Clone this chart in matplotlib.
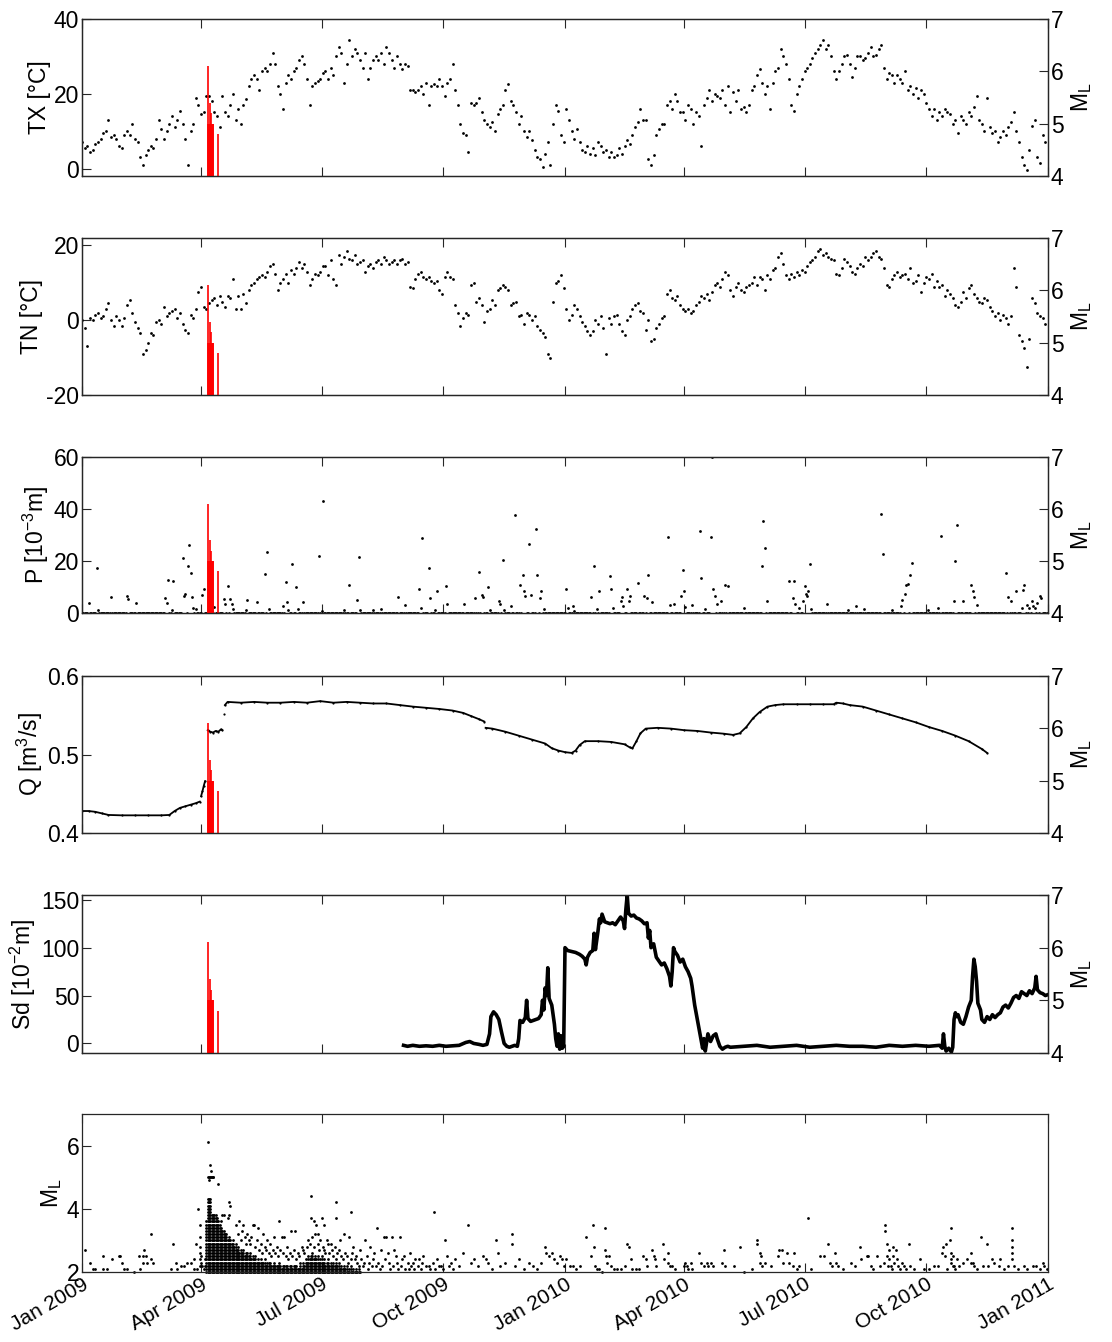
import numpy as np
import matplotlib
matplotlib.use("Agg")
import matplotlib.pyplot as plt
import matplotlib.dates as mdates
from datetime import datetime

# ---- data (day index from 1 Jan 2009) ----
# daily max / min temperature, read every 2 days
tx_vals = [7, 5.5, 6, 4.5, 5, 6.5, 7, 8, 9.5, 10,
           13, 8.5, 9, 8, 6, 5.5, 9, 10, 9, 12,
           8, 7, 3, 1, 3.5, 5, 6, 5.5, 8, 13,
           10.5, 8, 10, 12, 14, 11, 13, 15.5, 12, 8,
           1, 10, 12, 19, 17, 14.5, 15, 19.5, 19.5, 18,
           15, 14, 11, 19.5, 15, 14, 17, 20, 13, 16,
           12, 17, 18.5, 22, 24, 25, 24, 21, 26, 27,
           26, 28, 31, 28, 22, 20, 16, 23, 25, 24,
           26, 27, 29, 30, 28, 24, 17, 22, 23, 23.5,
           24, 25.5, 26, 24, 27, 25, 30, 32.5, 31, 23,
           28, 34.5, 30, 32, 31, 29, 27, 31, 24, 27,
           29, 30, 29, 31, 28, 32.5, 31, 29, 27, 30,
           28, 26.5, 28, 27.5, 21, 21, 20.5, 21, 22, 20,
           23, 17, 22, 22.5, 22, 24, 22, 19.5, 23, 24,
           28, 21, 17, 12, 9.5, 9, 4.5, 17.5, 17, 17.5,
           19, 15, 13, 12, 11, 12.5, 10, 14.5, 16, 17,
           21, 22.5, 18, 17, 15, 12, 14, 10, 8.5, 10,
           7.5, 5, 3, 2.5, 0.5, 4, 7, 1, 12, 17,
           15.5, 9, 7, 16, 13, 10, 8, 10.5, 7, 5,
           4.5, 6, 4, 5.5, 3.5, 7, 6, 4.5, 5, 3,
           4.5, 3, 3.5, 5.5, 4, 6, 7.5, 6.5, 9, 11,
           12.5, 16, 13, 13, 2.5, 1, 3.5, 9, 10.5, 12,
           12, 17, 18, 16, 20, 18, 15, 15, 13, 17,
           16, 12, 15, 14, 6, 17, 19, 21, 18, 20,
           19.5, 19, 21, 17, 22, 15, 20.5, 18, 21, 16,
           16.5, 15, 17, 21, 22, 25, 26.5, 23, 20, 22,
           16, 23, 26, 27, 32, 30, 28, 24, 17, 15.5,
           20, 22, 24, 26, 27, 28, 29.5, 31, 32, 33,
           34.5, 32, 33, 30, 26, 24, 26, 28, 30, 30.5,
           28, 24.5, 27, 30, 30, 29, 29.5, 31, 32.5, 30,
           30.5, 32, 33, 27, 24, 25.5, 25, 23, 25, 24,
           23, 26, 21, 22, 20, 21.5, 19, 21, 20, 17.5,
           16, 14, 16, 13, 15, 14, 16, 15, 14.5, 12,
           13, 9.5, 14, 13, 12, 15, 14, 16.5, 19.5, 13,
           12, 10, 19, 11, 9.5, 10, 7, 8.5, 10, 9,
           11, 12.5, 15, 10, 7, 3, 1, -0.5, 5, 11.5,
           13, 3, 1.5, 9, 7]
tn_vals = [0, -2, -7, 0.5, 0, 1.5, 2, 0.5, 1, 3,
           4.5, 0, -1.5, 1, 0, -1.5, 0.5, 4, 5.5, 2,
           -0.5, -2, -3.5, -9, -8, -6, -3.5, -4, -0.5, 0,
           -1, 3.5, 1, 2, 2.5, 3, 0.5, 2, -1, -2.5,
           -3.5, 1.5, 0.5, 3, 7.5, 9, 3.5, 3, 4.5, 5.5,
           6, 4, 6.5, 5, 3.5, 6.5, 6, 11, 3, 6.5,
           3, 7, 4.5, 8, 9.5, 10, 11, 11.5, 12, 11.5,
           13, 14.5, 15, 12.5, 8, 10, 11, 12.5, 10, 13.5,
           12.5, 14, 15.5, 14, 15, 13, 9.5, 11, 12.5, 12,
           13, 14.5, 14.5, 12, 16, 11, 9.5, 17.5, 15, 17,
           18.5, 16.5, 16, 17.5, 15, 15.5, 16, 13, 14.5, 15,
           14, 15.5, 16, 15, 17, 16, 15, 15.5, 16, 15,
           16, 16.5, 15, 15.5, 9, 8.5, 11, 12.5, 13, 11.5,
           11, 11.5, 10.5, 10, 10.5, 8, 7, 11.5, 13, 11.5,
           11, 4, 2, -1.5, 0.5, 2, 1.5, 9.5, 10, 5,
           6, 4, -0.5, 2.5, 3, 5.5, 4, 8, 8.5, 9.5,
           9, 8, 4, 4.5, 5, 1, 1.5, -1, 2, 1.5,
           0, 1, -1.5, -2.5, -3.5, -4.5, -9, -10, 5, 10,
           10.5, 12, 8.5, 3, 0, 1.5, 4, 3, 1, -0.5,
           -1.5, -3, -4, -3, 0, -1, 1, -2, -9, 0.5,
           -1, 1, 1.5, -1, -3, -4, 0, 1, 3, 4,
           4.5, 2.5, 2, -2.5, 0, -5.5, -5, -2, -1, 0.5,
           1, 7, 8, 6, 5.5, 6.5, 4, 3, 2.5, 3,
           2, 2.5, 4, 5, 6.5, 6, 7, 5.5, 7.5, 9.5,
           10, 9, 11, 13, 12, 8, 6.5, 9, 10, 8,
           7.5, 9, 9.5, 10, 11.5, 9.5, 11.5, 11, 8, 12,
           11, 13.5, 14, 17, 18, 15, 12, 11, 12.5, 11.5,
           13, 12, 13.5, 13, 14.5, 15.5, 16, 17, 18.5, 19,
           17.5, 18, 17, 16.5, 16, 12.5, 12, 14, 16.5, 15.5,
           14.5, 13, 12.5, 14, 15, 14.5, 17, 16, 17, 18,
           18.5, 17, 16.5, 14, 9.5, 9, 11, 12, 13, 11.5,
           12, 12.5, 11, 14, 10, 10.5, 12, 7.5, 10, 11.5,
           11, 12.5, 9, 10.5, 9, 9.5, 6.5, 8, 7, 6,
           4, 3.5, 5, 7.5, 6, 8.5, 9.5, 7, 6, 5,
           4.5, 6, 5.5, 3.5, 2.5, 1, 2, 0, 1.5, 0.5,
           -1, 1, 14, 9, -4, -5.5, -7.5, -12.5, -5, 6,
           4.5, 2, 1, 0.5, -1]

# precipitation: wet days only, every other day is 0
p_days = [5, 11, 12, 22, 34, 35, 41, 63, 64, 65, 68, 69, 76, 77, 78, 80, 81, 82, 83, 84, 86,
          91, 92, 100, 107, 108, 110, 112, 113, 114, 124, 125, 132, 138, 140, 141, 152, 154,
          155, 156, 159, 162, 163, 167, 179, 181, 182, 198, 202, 208, 209, 210, 220, 226, 239,
          244, 255, 256, 257, 262, 263, 267, 268, 275, 276, 289, 297, 300, 302, 303, 307, 308,
          315, 316, 318, 319, 324, 327, 331, 333, 334, 335, 338, 339, 343, 344, 346, 347, 349,
          366, 367, 371, 372, 385, 387, 389, 391, 399, 400, 401, 407, 408, 409, 412, 413, 414,
          420, 425, 427, 428, 431, 443, 444, 447, 453, 454, 455, 456, 461, 467, 468, 471, 475,
          476, 477, 478, 480, 483, 486, 488, 500, 514, 515, 516, 518, 534, 537, 538, 539, 542,
          545, 546, 547, 548, 549, 550, 551, 563, 579, 585, 591, 604, 605, 612, 619, 620, 622,
          623, 624, 626, 627, 639, 647, 649, 659, 660, 661, 666, 672, 673, 674, 676, 698, 700,
          702, 706, 710, 711, 712, 714, 716, 718, 719, 720, 722, 724, 725]
p_vals = [3.8, 17.3, 1.3, 6.0, 6.4, 5.4, 3.8, 5.8, 3.8, 12.6, 1.3, 12.2, 21.0, 6.4, 7.4, 18.0, 26.0, 15.4, 6.0, 2.0, 1.7,
          7.0, 9.4, 2.3, 5.5, 3.5, 10.3, 5.5, 3.5, 1.7, 1.3, 4.9, 4.2, 15.1, 23.3, 1.5, 2.6, 11.8,
          4.1, 1.0, 18.8, 10.0, 1.5, 4.4, 21.8, 0.6, 43.0, 1.0, 10.6, 5.1, 21.5, 1.0, 1.0, 1.5, 6.0,
          3.2, 9.4, 1.9, 28.7, 17.3, 5.8, 1.0, 8.3, 10.3, 3.5, 3.5, 5.8, 15.8, 7.0, 6.0, 9.9, 1.0,
          4.7, 3.5, 20.5, 1.0, 2.6, 37.6, 10.6, 14.5, 8.3, 6.4, 26.7, 6.8, 32.4, 14.7, 5.8, 8.6, 1.5,
          9.4, 1.9, 2.8, 0.6, 6.0, 18.0, 1.7, 8.3, 14.1, 9.2, 1.9, 4.5, 6.0, 2.6, 9.4, 4.5, 6.4,
          11.5, 6.4, 5.8, 14.7, 4.2, 29.2, 3.2, 3.5, 6.4, 16.7, 8.3, 2.2, 2.9, 31.4, 13.5, 1.7, 29.1,
          60.0, 9.2, 6.4, 3.5, 4.7, 10.9, 10.3, 1.9, 18.0, 35.3, 25.0, 4.5, 12.2, 5.8, 12.2, 3.5, 1.9,
          4.5, 10.3, 7.4, 6.4, 8.3, 18.8, 1.5, 3.5, 1.0, 2.6, 1.5, 38.0, 22.7, 1.0, 2.6, 5.1, 7.4,
          10.9, 11.3, 14.7, 19.2, 1.3, 1.9, 29.5, 4.5, 20.1, 34.0, 4.5, 10.9, 8.3, 6.2, 3.2, 15.4, 6.0,
          4.5, 8.3, 1.9, 9.0, 10.9, 3.2, 1.9, 4.5, 2.6, 1.9, 3.8, 6.4, 5.8]

# discharge (nan = data gap)
q_days = [0, 5, 10, 15, 20, 30, 40, 50, 60, 66, 70, 74, 78, 82, 86, 89, 89.5,
          90, 91, 92, 93, 93.5,
          95, 97, 99, 101, 103, 105, 106, 106.5,
          107, 107.5,
          108, 110, 120, 130, 140, 150, 160, 170, 180, 190, 200, 210, 220, 230, 240, 250,
          260, 270, 280, 288, 294, 300, 304, 304.5,
          305, 310, 320, 330, 340, 350, 355, 360, 365, 370, 373, 376, 380, 390, 400, 410, 414,
          416, 419, 422, 426, 435, 445, 455, 465, 475, 485, 492, 497, 502, 507, 512, 518, 524,
          530, 540, 550, 560, 568, 570, 575, 580, 590, 600, 610, 620, 630, 640, 650, 660, 670,
          680, 684]
q_vals = [0.428, 0.428, 0.427, 0.425, 0.423, 0.4225, 0.4225, 0.4225, 0.4225, 0.423, 0.428, 0.432,
          0.434, 0.436, 0.438, 0.440, np.nan,
          0.447, 0.453, 0.460, 0.466, np.nan,
          0.531, 0.529, 0.528, 0.530, 0.529, 0.532, 0.531, np.nan,
          0.551, np.nan,
          0.563, 0.567, 0.566, 0.567, 0.566, 0.566, 0.567, 0.566, 0.568, 0.566, 0.567, 0.566,
          0.565, 0.565, 0.563, 0.561, 0.5595, 0.558, 0.556, 0.553, 0.549, 0.545, 0.542, np.nan,
          0.534, 0.533, 0.529, 0.524, 0.519, 0.514, 0.508, 0.505, 0.503, 0.502, 0.505, 0.512,
          0.517, 0.517, 0.516, 0.513, 0.509, 0.508, 0.517, 0.527, 0.533, 0.534, 0.533, 0.531,
          0.530, 0.528, 0.5265, 0.525, 0.527, 0.535, 0.546, 0.554, 0.561, 0.563, 0.564, 0.564,
          0.564, 0.564, 0.564, 0.566, 0.565, 0.563, 0.561, 0.556, 0.551, 0.546, 0.541, 0.535,
          0.530, 0.524, 0.517, 0.507, 0.502]

# snow depth
sd_days = [243, 246, 250, 255, 260, 265, 270, 275, 280, 285, 290, 293, 296, 300, 303, 306,
           308, 309, 311, 313, 315, 317, 319, 321, 323, 325, 327, 329, 330, 331, 333, 335, 336,
           337, 339, 341, 343, 345, 347, 348, 349, 350, 351, 352, 353, 355, 356, 357, 358, 359,
           360, 361, 362, 363, 364, 365, 367, 370, 373, 376, 378, 380, 381, 382, 384, 386, 387,
           388, 390, 391, 392, 393, 395, 397, 399, 401, 403, 405, 407, 409, 410, 411, 412, 413,
           415, 417, 419, 421, 423, 425, 427, 428, 429, 430, 432, 434, 436, 438, 440, 442, 444,
           445, 446, 447, 448, 450, 452, 454, 456, 458, 460, 461, 463, 465, 467, 469, 470, 471,
           473, 475, 477, 479, 480, 482, 484, 486, 488, 490, 500, 510, 520, 530, 540, 550, 560,
           570, 580, 590, 600, 610, 620, 630, 640, 648, 650, 651, 652, 653, 655, 657, 658, 659,
           660, 661, 662, 664, 666, 668, 670, 672, 673, 674, 675, 676, 677, 679, 680, 682, 684,
           686, 688, 690, 692, 694, 696, 698, 700, 702, 704, 706, 708, 710, 712, 714, 716, 718,
           720, 721, 722, 724, 726, 728, 730]
sd_vals = [-2, -3, -2, -3, -2.5, -3, -2, -3, -2.5, -2, 1, 2, 0, -1, -2, -1,
           10, 28, 33, 30, 25, 12, 0, -3, -4, -3, -2, -3, 5, 24, 22, 27, 45,
           26, 23, 24, 25, 26, 30, 45, 35, 58, 50, 79, 47, 40, 30, 20, 5, -3,
           10, -6, 8, -5, -3, 100, 97, 96, 95, 93, 91, 88, 82, 90, 95, 97, 115,
           98, 118, 130, 126, 135, 127, 126, 125, 126, 124, 128, 132, 128, 120, 140, 155, 136,
           133, 134, 131, 130, 128, 125, 126, 110, 118, 100, 104, 90, 86, 82, 84, 78, 70,
           60, 75, 100, 96, 92, 85, 88, 80, 75, 68, 60, 40, 25, 10, -5, 5, -8,
           10, 2, 8, 10, 5, -3, -6, -4, -3, -4, -3, -2, -4, -3, -2, -4, -3,
           -2, -3, -3, -4, -2, -3, -2, -3, -2, -5, 10, -3, -8, -5, -9, -4, 25,
           32, 28, 30, 22, 20, 28, 38, 45, 70, 88, 80, 65, 42, 35, 25, 22, 28,
           25, 30, 27, 30, 32, 38, 40, 37, 42, 48, 50, 47, 54, 52, 50, 55, 52,
           58, 70, 56, 53, 52, 50, 51]

# strongest events (red bars on M_L axis)
big_days = [95.0, 95.2, 95.6, 96.0, 96.6, 97.0, 97.5, 97.8, 98.3, 98.8, 99.2, 102.5]
big_ml = [6.1, 5.0, 5.0, 4.9, 5.4, 5.0, 5.0, 5.2, 5.0, 5.0, 5.0, 4.8]

# swarm days: every 0.1 magnitude bin from 2.0 up to the top is occupied
col_days = list(range(94, 211))
col_tops = [3.6, 4.3, 4.3, 4.3, 3.8, 3.8, 3.8, 3.8, 3.7, 3.6, 3.5, 3.4, 3.3, 3.3, 3.2, 3.2,
            3.0, 3.1, 3.0, 2.9, 3.0, 2.8, 2.9, 2.7, 2.8, 2.6, 2.7, 2.6, 2.7, 2.5, 2.6, 2.6,
            2.5, 2.6, 2.4, 2.5, 2.4, 2.5, 2.3, 2.4, 2.3, 2.4, 2.3, 2.3, 2.4, 2.2, 2.3, 2.3,
            2.3, 2.2, 2.2, 2.3, 2.2, 2.2, 2.2, 2.3, 2.2, 2.1, 2.2, 2.2, 2.2, 2.2, 2.1, 2.2,
            2.2, 2.1, 2.2, 2.2, 2.2, 2.1, 2.1, 2.2, 2.1, 2.3, 2.2, 2.4, 2.3, 2.5, 2.4, 2.5,
            2.6, 2.4, 2.5, 2.4, 2.5, 2.3, 2.4, 2.5, 2.3, 2.4, 2.2, 2.3, 2.4, 2.2, 2.3, 2.2,
            2.3, 2.2, 2.4, 2.2, 2.3, 2.1, 2.2, 2.1, 2.2, 2.1, 2.2, 2.0, 2.1, 2.2, 2.0, 2.1,
            2.0, 2.1, 2.0, 2.1, 2.0]

# other single events
ev_days = [2, 6, 8, 10, 16, 16, 19, 23, 28, 29, 30, 32, 34, 39, 43, 44, 46, 46, 47, 48, 49, 52,
           52, 54, 67, 69, 71, 72, 75, 77, 79, 82, 85, 85, 86, 87, 88, 89, 89, 89, 89, 89, 89,
           90, 90, 91, 92, 93, 93, 111, 112, 111, 110, 107, 106, 105, 119, 116, 122, 129, 130,
           133, 137, 140, 145, 149, 151, 153, 158, 161, 166, 173, 173, 175, 177, 178, 181, 183,
           185, 188, 192, 192, 195, 198, 202, 203, 205, 210, 214, 218, 223, 226, 228, 230, 231,
           234, 236, 240, 243, 248, 250, 255, 258, 262, 266, 268, 270, 274, 276, 279, 282, 285,
           288, 292, 294, 296, 299, 303, 305, 307, 310, 313, 314, 316, 320, 325, 325, 327, 330,
           334, 338, 341, 344, 347, 350, 351, 353, 355, 357, 359, 361, 363, 364,
           366, 369, 371, 373, 376, 381, 385, 386, 387, 388, 389, 391, 393, 395, 395, 396, 397,
           398, 400, 402, 404, 407, 410, 412, 413, 415, 416, 419, 421, 424, 426, 427, 431, 432,
           433, 434, 439, 440, 443, 443, 444, 446, 448, 455, 456, 457, 458, 460, 461, 466, 468,
           470, 472, 473, 475, 477, 485, 484, 486, 493, 497, 500, 506, 510, 510, 512, 513, 512,
           514, 516, 521, 526, 527, 529, 530, 533, 534, 538, 537, 540, 542, 549, 551, 558, 561,
           564, 565, 567, 569, 570, 571, 575, 581, 584, 588, 589, 593, 594, 596, 598, 601, 603,
           606, 607, 607, 608, 608, 609, 610, 610, 611, 612, 613, 613, 614, 615, 616, 617, 618,
           620, 621, 623, 625, 626, 629, 633, 636, 640, 644, 647, 650, 651, 652, 653, 654, 656,
           657, 657, 657, 657, 658, 658, 659, 660, 661, 663, 666, 669, 672, 672, 673, 674, 676,
           679, 681, 684, 685, 688, 689, 693, 694, 697, 700, 703, 703, 703, 703, 703, 704, 707,
           712, 714, 719, 721, 724, 726, 727, 729,
           118, 120, 121, 123, 124, 125, 126, 127, 128, 131, 132, 134, 135, 136, 138, 139, 141,
           142, 143, 144, 146, 147, 148, 150, 152, 154, 155, 156, 157, 159, 160, 162, 163, 164,
           165, 167, 168, 170, 171, 172, 174, 175, 176, 178, 179, 180, 182, 183, 184, 186, 187,
           189, 190, 191, 193, 194, 196, 197, 199, 200, 201, 203, 204, 206, 207, 208, 209, 211,
           212, 213, 215, 216, 217, 219, 220, 221, 222, 224, 225, 227, 229, 232, 233, 235, 237,
           238, 239, 241, 242, 244, 246, 247, 249, 251, 252, 254, 256, 257, 260, 263, 265, 267,
           271, 273, 277, 280]
ev_ml = [2.7, 2.3, 2.1, 2.1, 2.5, 2.1, 2.1, 2.4, 2.5, 2.5, 2.3, 2.1, 2.1, 2.0, 2.5, 2.1, 2.5, 2.3,
         2.7, 2.5, 2.3, 3.2, 2.4, 2.3, 2.1, 2.9, 2.3, 2.1, 2.2, 2.2, 2.3, 2.3, 2.1, 2.4, 2.9, 2.1,
         4.0, 3.5, 3.1, 2.8, 2.6, 2.4, 2.2, 2.5, 2.3, 2.2, 2.1, 2.4, 2.2, 4.2, 4.1, 3.8, 3.7, 3.8,
         3.8, 3.6, 3.6, 3.5, 3.5, 3.5, 3.5, 3.4, 3.2, 3.0, 3.1, 3.6, 3.1, 3.1, 3.3, 3.3, 2.8, 4.4,
         3.7, 3.6, 3.5, 3.2, 3.7, 3.5, 3.0, 2.9, 4.2, 3.7, 3.0, 3.2, 3.1, 3.9, 2.8, 2.7, 3.0, 2.8,
         3.4, 2.7, 3.1, 3.1, 2.6, 3.1, 2.7, 3.1, 2.5, 2.6, 2.3, 2.4, 2.5, 2.2, 3.9, 2.4, 2.2, 3.0,
         2.5, 2.3, 2.4, 2.2, 2.6, 3.5, 2.3, 2.4, 2.2, 2.5, 2.4, 2.3, 2.1, 3.0, 2.6, 2.2, 2.3, 3.2,
         2.9, 2.2, 2.4, 2.1, 2.3, 2.2, 2.1, 2.3, 2.8, 2.6, 2.5, 2.6, 2.4, 2.3, 2.5, 2.4, 2.2,
         2.4, 2.2, 2.2, 2.1, 2.2, 3.1, 2.5, 3.5, 2.8, 2.2, 2.1, 2.1, 2.0, 3.4, 2.7, 2.5, 2.3,
         2.5, 2.2, 2.1, 2.1, 2.1, 2.2, 2.9, 2.8, 2.4, 2.1, 2.1, 2.1, 2.5, 2.4, 2.2, 2.7, 2.5,
         2.4, 2.2, 2.9, 2.4, 2.6, 2.3, 2.2, 2.2, 2.1, 2.2, 2.3, 2.2, 2.1, 2.3, 2.1, 2.6, 2.3,
         2.2, 2.3, 2.2, 2.3, 2.2, 2.7, 2.3, 2.2, 2.2, 2.8, 2.0, 2.1, 3.0, 2.9, 2.6, 2.5, 2.3,
         2.2, 2.3, 2.2, 2.5, 2.7, 2.7, 2.3, 2.6, 2.3, 2.6, 2.2, 2.1, 2.2, 3.7, 2.1, 2.5, 2.5,
         2.9, 2.3, 2.2, 2.6, 2.3, 2.2, 2.1, 2.3, 2.2, 2.8, 2.4, 2.5, 2.5, 2.2, 2.1, 2.5, 2.2,
         2.3, 3.5, 3.3, 2.9, 2.5, 2.2, 2.7, 2.4, 2.2, 2.1, 2.8, 2.5, 2.3, 2.7, 2.4, 2.2, 2.1,
         2.3, 2.2, 2.1, 2.9, 2.2, 2.1, 2.4, 2.1, 2.1, 2.2, 2.2, 2.6, 2.8, 2.5, 2.9, 2.1, 3.0,
         3.4, 2.6, 2.4, 2.3, 2.2, 2.5, 2.2, 2.1, 2.4, 2.2, 2.3, 2.4, 2.6, 2.3, 2.3, 2.2, 2.1,
         3.1, 2.2, 2.9, 2.2, 2.4, 2.3, 2.2, 2.4, 2.1, 2.2, 3.4, 3.0, 2.8, 2.6, 2.4, 2.2, 2.1,
         2.2, 2.1, 2.2, 2.2, 2.1, 2.3, 2.2, 2.1,
         3.2, 3.0, 3.3, 3.1, 2.9, 3.2, 3.0, 2.9, 3.1, 2.8, 3.0, 2.7, 2.9, 2.6, 2.8, 2.7, 2.6,
         2.9, 2.5, 2.7, 2.6, 2.8, 2.5, 2.7, 2.6, 2.5, 2.8, 2.4, 2.6, 2.5, 2.7, 2.4, 2.6, 2.5,
         2.3, 2.7, 2.6, 2.8, 3.0, 2.9, 3.1, 2.8, 3.2, 2.9, 2.7, 3.0, 2.8, 2.7, 2.6, 2.9, 2.6,
         2.7, 2.5, 2.8, 2.6, 2.7, 2.5, 2.4, 2.6, 2.5, 2.3, 2.4, 2.6, 2.4, 2.5, 2.3, 2.2, 2.4,
         2.2, 2.3, 2.5, 2.1, 2.3, 2.2, 2.4, 2.6, 2.2, 2.3, 2.1, 2.2, 2.4, 2.3, 2.1, 2.2, 2.5,
         2.3, 2.1, 2.2, 2.4, 2.1, 2.3, 2.1, 2.2, 2.1, 2.4, 2.2, 2.1, 2.3, 2.2, 2.1, 2.3, 2.1,
         2.2, 2.1, 2.2, 2.1]

quarter_ticks = ["2009-01-01", "2009-04-01", "2009-07-01", "2009-10-01", "2010-01-01",
                 "2010-04-01", "2010-07-01", "2010-10-01", "2011-01-01"]

# ---- plotting ----
plt.rcParams['font.family'] = ['Liberation Sans', 'DejaVu Sans']
plt.rcParams['font.size'] = 16
plt.rcParams['axes.unicode_minus'] = False
plt.rcParams['axes.edgecolor'] = '0.15'
plt.rcParams['axes.linewidth'] = 0.9

base = mdates.date2num(datetime(2009, 1, 1))
tick_x = [mdates.date2num(datetime.strptime(t, "%Y-%m-%d")) for t in quarter_ticks]
tick_lab = [datetime.strptime(t, "%Y-%m-%d").strftime("%b %Y") for t in quarter_ticks]

W, H = 1112, 1342
fig = plt.figure(figsize=(W / 100, H / 100), dpi=100)
panels_px = [(19, 176), (238, 395), (457, 613), (676, 833), (895, 1053), (1114, 1272)]
axes = [fig.add_axes([82 / W, 1 - b / H, 966 / W, (b - t) / H]) for t, b in panels_px]

dot = dict(ls='none', marker='o', ms=2.0, mfc='k', mec='none')
ml_lab = 'M$\\mathregular{_L}$'
YT = 16.5   # y tick label size
LB = 16.5   # axis label size


def style(ax, last=False):
    ax.set_xlim(base, base + 730)
    ax.set_xticks(tick_x)
    ax.tick_params(axis='both', direction='in', length=6.5, width=0.8, color='0.15',
                   top=True, right=False, labelsize=YT, pad=2)
    if last:
        ax.set_xticklabels(tick_lab, rotation=30, ha='right', rotation_mode='anchor',
                           fontsize=15)
    else:
        ax.set_xticklabels([])


def add_ml_axis(ax):
    ax2 = ax.twinx()
    ax2.set_ylim(4, 7)
    ax2.set_yticks([4, 5, 6, 7])
    ax2.tick_params(axis='y', direction='in', length=6.5, width=0.8, color='0.15',
                    labelsize=YT, pad=2)
    ax2.vlines(base + np.array(big_days), 4, big_ml, color='#ff0000', lw=1.2)
    ax2.set_ylabel(ml_lab, fontsize=LB, labelpad=4)
    ax2.set_xlim(base, base + 730)
    return ax2


d2 = base + np.arange(0, 730, 2)

ax = axes[0]
ax.plot(d2, tx_vals, **dot)
ax.set_ylim(-2, 40)
ax.set_yticks([0, 20, 40])
ax.set_ylabel('TX [°C]', fontsize=LB, labelpad=2)
style(ax)
add_ml_axis(ax)

ax = axes[1]
ax.plot(d2, tn_vals, **dot)
ax.set_ylim(-20, 22)
ax.set_yticks([-20, 0, 20])
ax.set_ylabel('TN [°C]', fontsize=LB, labelpad=2)
style(ax)
add_ml_axis(ax)

ax = axes[2]
dry = np.setdiff1d(np.arange(730), p_days)
ax.plot(base + dry, np.zeros(len(dry)), **dot)
ax.plot(base + np.array(p_days), p_vals, **dot)
ax.set_ylim(0, 60)
ax.set_yticks([0, 20, 40, 60])
ax.set_ylabel('P [10$\\mathregular{^{-3}}$m]', fontsize=LB, labelpad=2)
style(ax)
add_ml_axis(ax)

ax = axes[3]
ax.plot(base + np.array(q_days), q_vals, color='k', lw=1.3, marker='o', ms=1.6, mec='none')
ax.set_ylim(0.4, 0.6)
ax.set_yticks([0.4, 0.5, 0.6])
ax.set_ylabel('Q [m$\\mathregular{^3}$/s]', fontsize=LB, labelpad=2)
style(ax)
add_ml_axis(ax)

ax = axes[4]
ax.plot(base + np.array(sd_days), sd_vals, color='k', lw=2.6)
ax.set_ylim(-10, 155)
ax.set_yticks([0, 50, 100, 150])
ax.set_ylabel('Sd [10$\\mathregular{^{-2}}$m]', fontsize=LB, labelpad=2)
style(ax)
add_ml_axis(ax)

ax = axes[5]
cx, cy = [], []
for d, top in zip(col_days, col_tops):
    lv = np.arange(20, int(round(top * 10)) + 1) / 10
    cx.extend([d] * len(lv))
    cy.extend(lv)
ax.plot(base + np.array(cx), cy, clip_on=False, **dot)
ax.plot(base + np.array(ev_days), ev_ml, clip_on=False, **dot)
ax.plot(base + np.array(big_days), big_ml, **dot)
ax.set_ylim(2, 7)
ax.set_yticks([2, 4, 6])
ax.set_ylabel(ml_lab, fontsize=LB, labelpad=2)
style(ax, last=True)

fig.savefig('out.png', dpi=100)
